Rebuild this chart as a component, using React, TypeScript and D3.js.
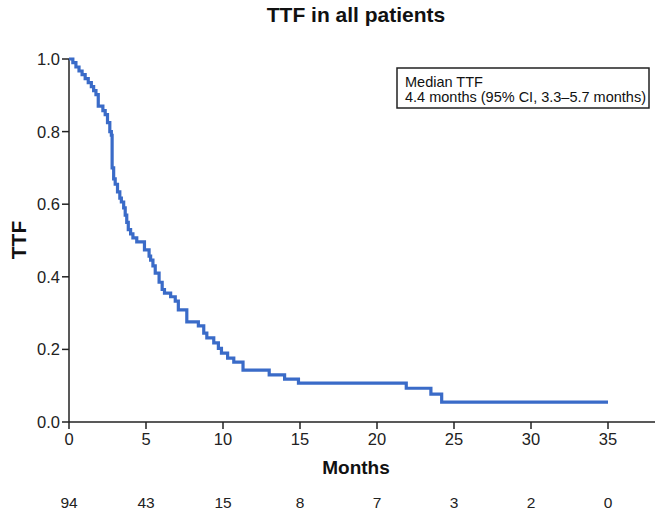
import React from "react";
import * as d3 from "d3";

const title = "TTF in all patients";
const xLabel = "Months";
const yLabel = "TTF";
const xTicks = [0, 5, 10, 15, 20, 25, 30, 35];
const yTicks = [0, 0.2, 0.4, 0.6, 0.8, 1.0];
const atRisk = [94, 43, 15, 8, 7, 3, 2, 0];
const legendLines = ["Median TTF", "4.4 months (95% CI, 3.3\u20135.7 months)"];

// event times (months) and survival after each step
const stepTimes = [
  0.25, 0.45, 0.65, 0.85, 1.05, 1.25, 1.45, 1.6, 1.75, 1.9, 2.2, 2.35, 2.5, 2.65, 2.75, 2.8,
  2.9, 3.0, 3.15, 3.3, 3.4, 3.55, 3.65, 3.75, 3.85, 4.0, 4.15, 4.4, 4.9, 5.2, 5.3, 5.45,
  5.6, 5.85, 6.05, 6.2, 6.6, 6.9, 7.1, 7.65, 8.4, 8.75, 8.95, 9.4, 9.7, 9.9, 10.3, 10.7,
  11.3, 13.0, 14.0, 14.9, 21.9, 23.5, 24.2,
];
const stepSurv = [
  0.99, 0.978, 0.967, 0.957, 0.946, 0.935, 0.924, 0.913, 0.902, 0.87, 0.858, 0.847, 0.825, 0.8, 0.79, 0.7,
  0.67, 0.655, 0.634, 0.617, 0.606, 0.59, 0.57, 0.55, 0.53, 0.518, 0.507, 0.496, 0.474, 0.457, 0.446, 0.43,
  0.41, 0.385, 0.365, 0.355, 0.345, 0.333, 0.309, 0.276, 0.265, 0.245, 0.232, 0.218, 0.203, 0.19, 0.176, 0.165,
  0.143, 0.13, 0.118, 0.107, 0.093, 0.077, 0.055,
];
const lastTime = 35;

export default function App() {
  const W = 661, H = 511;
  const x = d3.scaleLinear().domain([0, 35]).range([69, 608]);
  const y = d3.scaleLinear().domain([0, 1]).range([422, 59]);

  const pts: [number, number][] = [[0, 1]];
  stepTimes.forEach((t, i) => pts.push([t, stepSurv[i]]));
  pts.push([lastTime, stepSurv[stepSurv.length - 1]]);
  const line = d3
    .line<[number, number]>()
    .x((d) => x(d[0]))
    .y((d) => y(d[1]))
    .curve(d3.curveStepAfter);

  const font = "'Liberation Sans', Arial, sans-serif";
  const axisColor = "#222";

  return (
    <svg
      width={W}
      height={H}
      style={{ position: "absolute", left: 0, top: 0, background: "#fff" }}
      fontFamily={font}
    >
      <rect x={0} y={0} width={W} height={H} fill="#fff" />
      <text x={356} y={22} textAnchor="middle" fontSize={21} fontWeight="bold" fill="#111">
        {title}
      </text>

      {/* axes */}
      <line x1={69} x2={69} y1={y(1)} y2={y(0)} stroke={axisColor} strokeWidth={1.5} />
      <line x1={69} x2={655} y1={y(0)} y2={y(0)} stroke={axisColor} strokeWidth={1.5} />

      {yTicks.map((v) => (
        <g key={"y" + v}>
          <line x1={62} x2={69} y1={y(v)} y2={y(v)} stroke={axisColor} strokeWidth={1.5} />
          <text x={60} y={y(v)} dy="0.36em" textAnchor="end" fontSize={16.5} fill="#222">
            {v.toFixed(1)}
          </text>
        </g>
      ))}
      {xTicks.map((v) => (
        <g key={"x" + v}>
          <line x1={x(v)} x2={x(v)} y1={y(0)} y2={y(0) + 7} stroke={axisColor} strokeWidth={1.5} />
          <text x={x(v)} y={445} textAnchor="middle" fontSize={16.5} fill="#222">
            {v}
          </text>
        </g>
      ))}

      <text x={356} y={474} textAnchor="middle" fontSize={19} fontWeight="bold" fill="#111">
        {xLabel}
      </text>
      <text
        transform={`translate(26, 240) rotate(-90)`}
        textAnchor="middle"
        fontSize={21}
        fontWeight="bold"
        fill="#111"
      >
        {yLabel}
      </text>

      {atRisk.map((n, i) => (
        <text key={"r" + i} x={x(xTicks[i])} y={508} textAnchor="middle" fontSize={15.5} fill="#222">
          {n}
        </text>
      ))}

      <path d={line(pts) || ""} fill="none" stroke="#3a6bc8" strokeWidth={3.2} />

      {/* legend */}
      <rect x={397} y={68} width={252} height={40} fill="#fff" stroke="#222" strokeWidth={1.5} />
      <text x={405} y={87} fontSize={14.5} fill="#111">
        {legendLines[0]}
      </text>
      <text x={405} y={102} fontSize={14.5} fill="#111">
        {legendLines[1]}
      </text>
    </svg>
  );
}
